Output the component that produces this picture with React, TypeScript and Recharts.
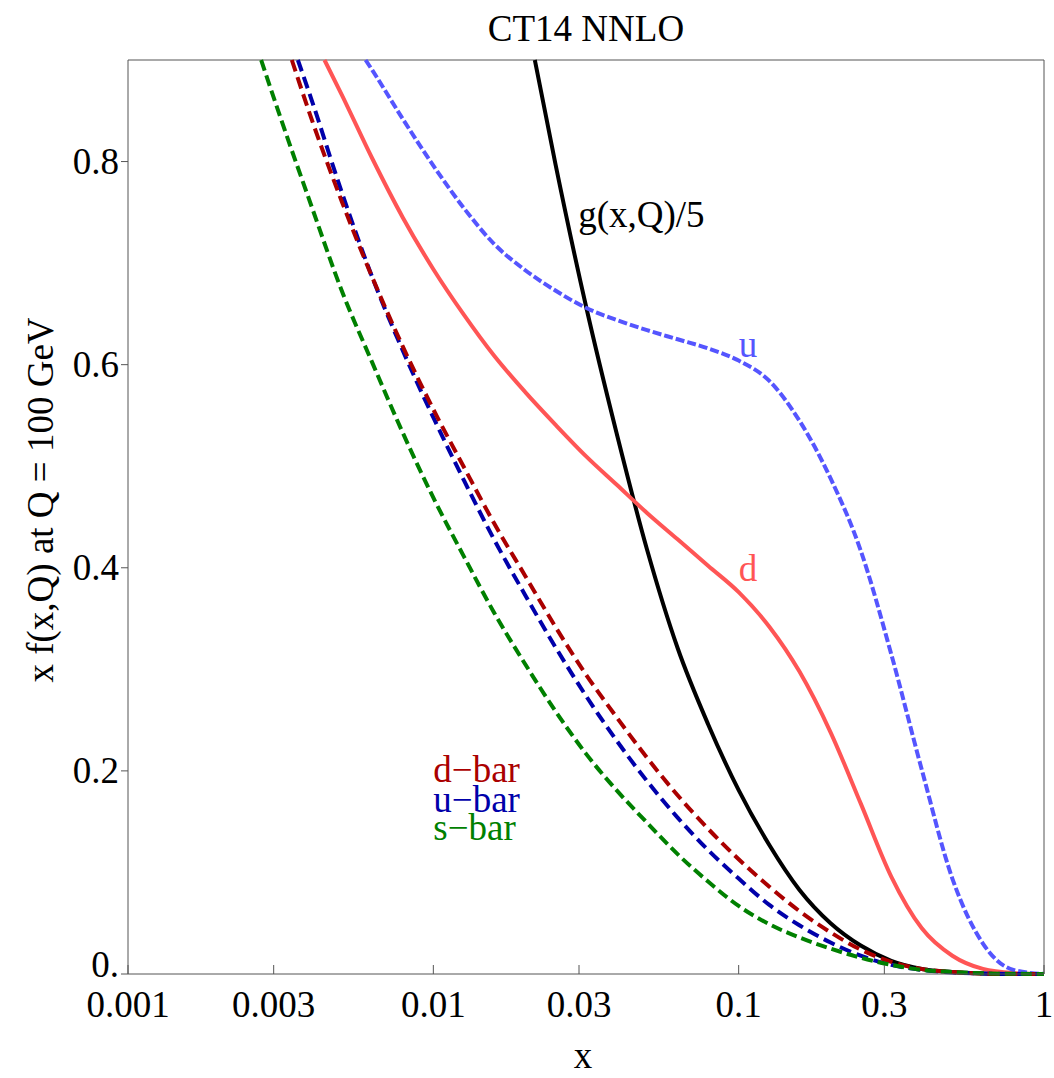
import React from 'react';
import { LineChart, Line, XAxis, YAxis, ReferenceLine, ReferenceDot } from 'recharts';

// [x, x*f(x,Q)] at Q = 100 GeV.
// First point of each curve is where it leaves the top of the frame.
type Pt = [number, number];

const xTicks = [0.001, 0.003, 0.01, 0.03, 0.1, 0.3, 1];
const yTicks = [0, 0.2, 0.4, 0.6, 0.8];

const gluonOver5: Pt[] = [
    [0.0215, 0.9], [0.0251, 0.798], [0.0316, 0.658], [0.0398, 0.533], [0.0501, 0.418],
    [0.0631, 0.321], [0.0794, 0.246], [0.1, 0.181], [0.126, 0.127], [0.158, 0.083],
    [0.2, 0.05], [0.251, 0.028], [0.316, 0.013], [0.398, 0.005], [0.501, 0.002],
    [0.631, 0.0005], [0.794, 0], [1, 0],
];

const dQuark: Pt[] = [
    [0.0044, 0.9], [0.00501, 0.866], [0.00631, 0.803], [0.00794, 0.745], [0.01, 0.694],
    [0.0126, 0.649], [0.0158, 0.609], [0.02, 0.573], [0.0251, 0.541], [0.0316, 0.51],
    [0.0398, 0.482], [0.0501, 0.454], [0.0631, 0.428], [0.0794, 0.402], [0.1, 0.376],
    [0.126, 0.342], [0.158, 0.298], [0.2, 0.238], [0.251, 0.168], [0.316, 0.096],
    [0.398, 0.045], [0.501, 0.018], [0.631, 0.005], [0.794, 0.001], [1, 0],
];

const uQuark: Pt[] = [
    [0.006, 0.9], [0.00631, 0.89], [0.00794, 0.842], [0.01, 0.796], [0.0126, 0.754],
    [0.0158, 0.719], [0.02, 0.693], [0.0251, 0.673], [0.0316, 0.656], [0.0398, 0.644],
    [0.0501, 0.634], [0.0631, 0.625], [0.0794, 0.616], [0.1, 0.604], [0.126, 0.584],
    [0.158, 0.545], [0.2, 0.488], [0.251, 0.417], [0.316, 0.315], [0.398, 0.201],
    [0.501, 0.094], [0.631, 0.03], [0.794, 0.004], [1, 0],
];

const dBar: Pt[] = [
    [0.00344, 0.9], [0.00398, 0.843], [0.00501, 0.761], [0.00631, 0.686], [0.00794, 0.618],
    [0.01, 0.556], [0.0126, 0.499], [0.0158, 0.444], [0.02, 0.392], [0.0251, 0.342],
    [0.0316, 0.295], [0.0398, 0.253], [0.0501, 0.213], [0.0631, 0.176], [0.0794, 0.143],
    [0.1, 0.113], [0.126, 0.086], [0.158, 0.062], [0.2, 0.041], [0.251, 0.024],
    [0.316, 0.012], [0.398, 0.005], [0.501, 0.002], [0.631, 0.0005], [0.794, 0], [1, 0],
];

const uBar: Pt[] = [
    [0.0036, 0.9], [0.00398, 0.862], [0.00501, 0.77], [0.00631, 0.686], [0.00794, 0.614],
    [0.01, 0.548], [0.0126, 0.486], [0.0158, 0.428], [0.02, 0.373], [0.0251, 0.322],
    [0.0316, 0.274], [0.0398, 0.23], [0.0501, 0.19], [0.0631, 0.154], [0.0794, 0.122],
    [0.1, 0.094], [0.126, 0.068], [0.158, 0.048], [0.2, 0.031], [0.251, 0.018],
    [0.316, 0.009], [0.398, 0.004], [0.501, 0.0015], [0.631, 0.0005], [0.794, 0], [1, 0],
];

const sBar: Pt[] = [
    [0.00273, 0.9], [0.00316, 0.843], [0.00398, 0.757], [0.00501, 0.673], [0.00631, 0.602],
    [0.00794, 0.533], [0.01, 0.469], [0.0126, 0.411], [0.0158, 0.356], [0.02, 0.305],
    [0.0251, 0.259], [0.0316, 0.217], [0.0398, 0.181], [0.0501, 0.149], [0.0631, 0.118],
    [0.0794, 0.091], [0.1, 0.067], [0.126, 0.049], [0.158, 0.036], [0.2, 0.025],
    [0.251, 0.016], [0.316, 0.009], [0.398, 0.004], [0.501, 0.002], [0.631, 0.0007],
    [0.794, 0.0002], [1, 0],
];

const SERIF = '"Liberation Serif", "Times New Roman", serif';
const FS = 37;
const AXIS = '#555';

const rows = (pts: Pt[]) => pts.map(([x, y]) => ({ x, y }));

const series = [
    { key: 'g', pts: gluonOver5, color: '#000000', dash: undefined as string | undefined },
    { key: 'd', pts: dQuark, color: '#FF5555', dash: undefined },
    { key: 'u', pts: uQuark, color: '#5555FF', dash: '9 3' },
    { key: 'ubar', pts: uBar, color: '#0000AA', dash: '12 6' },
    { key: 'dbar', pts: dBar, color: '#AA0000', dash: '12 6' },
    { key: 'sbar', pts: sBar, color: '#008000', dash: '11 5' },
];

// text baselines placed in data coordinates
const curveLabels = [
    { text: 'g(x,Q)/5', x: 0.0298, y: 0.736, color: '#000000' },
    { text: 'u', x: 0.1, y: 0.608, color: '#5555FF' },
    { text: 'd', x: 0.1, y: 0.387, color: '#FF5555' },
    { text: 'd\u2212bar', x: 0.01, y: 0.189, color: '#AA0000' },
    { text: 'u\u2212bar', x: 0.01, y: 0.16, color: '#0000AA' },
    { text: 's\u2212bar', x: 0.01, y: 0.132, color: '#008000' },
];

const XTick = (props: any) => {
    const { x, y, payload } = props;
    return (
        <g>
            <line x1={x} x2={x} y1={y} y2={y - 9} stroke={AXIS} strokeWidth={1} />
            <text x={x} y={y + 43} textAnchor="middle" fontSize={FS} fontFamily={SERIF} fill="#000">
                {String(payload.value)}
            </text>
        </g>
    );
};

const YTick = (props: any) => {
    const { x, y, payload } = props;
    const v = payload.value as number;
    return (
        <g>
            <line x1={x} x2={x - 7} y1={y} y2={y} stroke={AXIS} strokeWidth={1} />
            <text x={x - 9} y={v === 0 ? y + 3 : y + 12} textAnchor="end" fontSize={FS} fontFamily={SERIF} fill="#000">
                {v === 0 ? '0.' : v.toFixed(1)}
            </text>
        </g>
    );
};

const App: React.FC = () => {
    return (
        <div style={{ position: 'relative', width: 1054, height: 1078, background: '#fff' }}>
            <style>{'body{margin:0}'}</style>
            <div
                style={{
                    position: 'absolute', left: 128, top: 10, width: 916, textAlign: 'center',
                    fontFamily: SERIF, fontSize: FS, lineHeight: 1, color: '#000',
                }}
            >
                CT14 NNLO
            </div>
            <LineChart width={1054} height={1078} margin={{ top: 60, right: 10, bottom: 0, left: 0 }}>
                <XAxis
                    dataKey="x"
                    type="number"
                    scale="log"
                    domain={[0.001, 1]}
                    ticks={xTicks}
                    interval={0}
                    height={104}
                    tickSize={0}
                    tickMargin={0}
                    tickLine={false}
                    tick={<XTick />}
                    axisLine={{ stroke: AXIS }}
                    label={{
                        content: (p: any) => (
                            <text
                                x={p.viewBox.x + p.viewBox.width / 2 - 3}
                                y={p.viewBox.y + 94}
                                textAnchor="middle"
                                fontSize={FS}
                                fontFamily={SERIF}
                                fill="#000"
                            >
                                x
                            </text>
                        ),
                    }}
                />
                <YAxis
                    type="number"
                    domain={[0, 0.9]}
                    ticks={yTicks}
                    interval={0}
                    width={128}
                    tickSize={0}
                    tickMargin={0}
                    tickLine={false}
                    tick={<YTick />}
                    axisLine={{ stroke: AXIS }}
                    label={{
                        content: (p: any) => (
                            <text
                                transform={`translate(53, ${p.viewBox.y + p.viewBox.height / 2 - 17}) rotate(-90)`}
                                textAnchor="middle"
                                fontSize={FS}
                                fontFamily={SERIF}
                                fill="#000"
                            >
                                x f(x,Q) at Q = 100 GeV
                            </text>
                        ),
                    }}
                />
                <ReferenceLine y={0.9} stroke={AXIS} strokeWidth={1} />
                <ReferenceLine x={1} stroke={AXIS} strokeWidth={1} />
                {series.map((s) => (
                    <Line
                        key={s.key}
                        data={rows(s.pts)}
                        dataKey="y"
                        type="monotone"
                        stroke={s.color}
                        strokeWidth={4}
                        strokeDasharray={s.dash}
                        dot={false}
                        activeDot={false}
                        isAnimationActive={false}
                    />
                ))}
                {curveLabels.map((l) => (
                    <ReferenceDot
                        key={l.text}
                        x={l.x}
                        y={l.y}
                        r={0}
                        shape={(p: any) => (
                            <text x={p.cx} y={p.cy} fontSize={FS} fontFamily={SERIF} fill={l.color}>
                                {l.text}
                            </text>
                        )}
                    />
                ))}
            </LineChart>
        </div>
    );
};

export default App;
